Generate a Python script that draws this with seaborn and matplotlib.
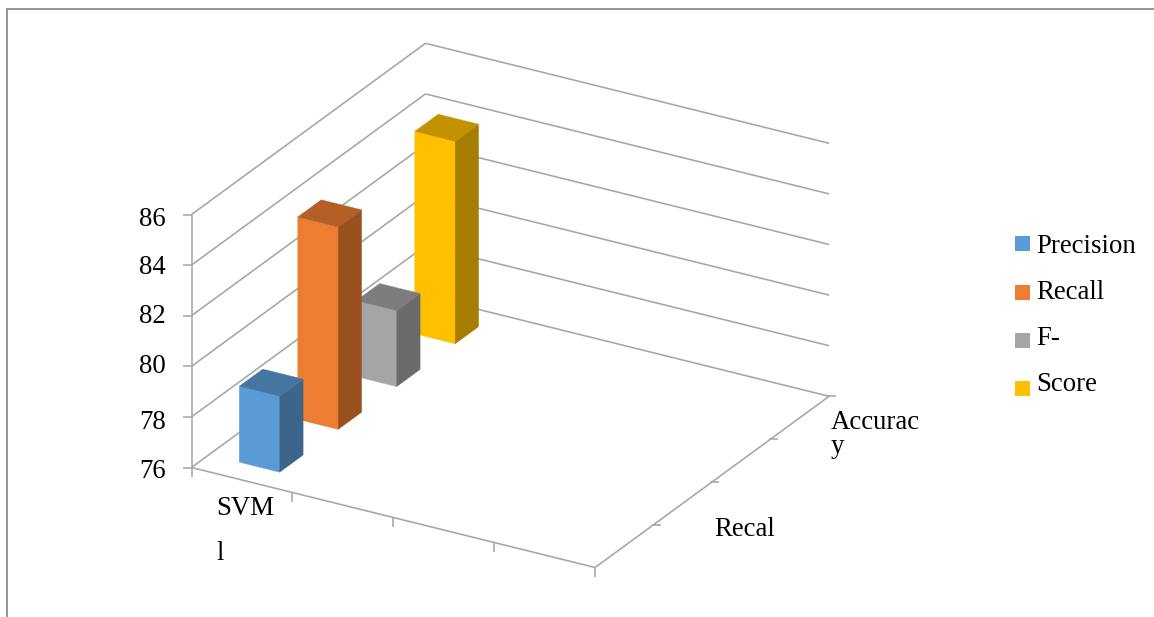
import matplotlib
matplotlib.use("Agg")
import matplotlib.pyplot as plt
import numpy as np
import pandas as pd
import seaborn as sns

# Chart data
series_names = ["Precision", "Recall", "F-Score", "Accuracy"]
series_values = [79, 84, 79, 84]
series_colors = ["#5B9BD5", "#ED7D31", "#A5A5A5", "#FFC000"]
category_count = 4
y_ticks = [76, 78, 80, 82, 84, 86]
legend_labels = ["Precision", "Recall", "F-", "Score"]
category_labels = ["SVM", "l"]
depth_labels = ["Recal", "Accurac", "y"]

# Oblique projection used for the 3-D column view (canvas units per data unit)
ORIGIN = np.array([191.5, 467.5])
CAT_STEP = np.array([100.9, 25.0])
SER_STEP = np.array([58.5, -42.8])
VAL_STEP = np.array([0.0, -25.3])
BASE = y_ticks[0]
GAP = 0.3
WIDTH = 0.4


def project(cat, ser, val=BASE):
    return ORIGIN + cat * CAT_STEP + ser * SER_STEP + (val - BASE) * VAL_STEP


def shade(color, factor):
    return tuple(np.array(matplotlib.colors.to_rgb(color)) * factor)


sns.set_theme(style="white")
plt.rcParams["font.family"] = ["Liberation Serif", "DejaVu Sans"]
FONT = 19.3
GRID = "#A6A6A6"

fig = plt.figure(figsize=(11.54, 6.17), dpi=100, facecolor="white")
ax = fig.add_axes([0, 0, 1, 1])
ax.set_xlim(0, 1154)
ax.set_ylim(617, 0)
ax.set_axis_off()


def seg(p, q, color=GRID, lw=1.15, z=1):
    ax.plot([p[0], q[0]], [p[1], q[1]], color=color, lw=lw, zorder=z,
            solid_capstyle="butt")


# Chart-area frame
ax.plot([6.5, 6.5, 1154], [617, 9, 9], color="#8C8C8C", lw=1.3, zorder=1)

# Side-wall and back-wall gridlines, with the value labels on their own baselines
n_cat, n_ser = category_count, len(series_names)
tick_label_baselines = [478, 429, 373, 323, 274, 226]
for v, baseline in zip(y_ticks, tick_label_baselines):
    seg(project(0, 0, v), project(0, n_ser, v))
    seg(project(0, n_ser, v), project(n_cat, n_ser, v))
    p = project(0, 0, v)
    seg(p, p + np.array([-8.5, 0]))
    ax.text(166, baseline, str(v), ha="right", va="baseline",
            fontsize=FONT, color="black")

# Value axis and floor edges
seg(project(0, 0, y_ticks[0]), project(0, 0, y_ticks[-1]))
seg(project(0, 0), project(n_cat, 0))
seg(project(n_cat, 0), project(n_cat, n_ser))

# Category and depth tick marks
for c in range(n_cat + 1):
    p = project(c, 0)
    seg(p, p + np.array([0, 9]))
for s in range(1, n_ser + 1):
    p = project(n_cat, s)
    seg(p, p + np.array([7, 0]))
    seg(p, p + np.array([-2, 0]))

# Columns, painted from the back of the floor to the front
bars = pd.DataFrame({"series": series_names, "value": series_values,
                     "color": series_colors})
for s, row in reversed(list(bars.iterrows())):
    c0, c1 = GAP, GAP + WIDTH
    s0, s1 = s + GAP, s + GAP + WIDTH
    v = row["value"]
    faces = [
        ([(c0, s0, BASE), (c1, s0, BASE), (c1, s0, v), (c0, s0, v)], 1.0),
        ([(c1, s0, BASE), (c1, s1, BASE), (c1, s1, v), (c1, s0, v)], 0.65),
        ([(c0, s0, v), (c1, s0, v), (c1, s1, v), (c0, s1, v)], 0.76),
    ]
    for corners, factor in faces:
        pts = np.array([project(*corner) for corner in corners])
        col = shade(row["color"], factor)
        ax.fill(pts[:, 0], pts[:, 1], facecolor=col, edgecolor=col, lw=0.3,
                zorder=3)

# Wrapped axis labels
ax.text(216.3, 515, category_labels[0], fontsize=FONT, color="black", va="baseline")
ax.text(216.3, 560, category_labels[1], fontsize=FONT, color="black", va="baseline")
ax.text(714, 536, depth_labels[0], fontsize=FONT, color="black", va="baseline")
ax.text(830.5, 429, depth_labels[1], fontsize=FONT, color="black", va="baseline")
ax.text(830.5, 453, depth_labels[2], fontsize=FONT, color="black", va="baseline")

# Legend
swatch_tops = [236, 285, 333, 381]
text_baselines = [253, 299, 345, 391]
for label, col, top, base in zip(legend_labels, series_colors, swatch_tops,
                                 text_baselines):
    ax.add_patch(plt.Rectangle((1015, top), 15, 15, facecolor=col, edgecolor="none"))
    ax.text(1036, base, label, fontsize=FONT, color="black", va="baseline")

fig.savefig("out.png", dpi=100, facecolor="white")
